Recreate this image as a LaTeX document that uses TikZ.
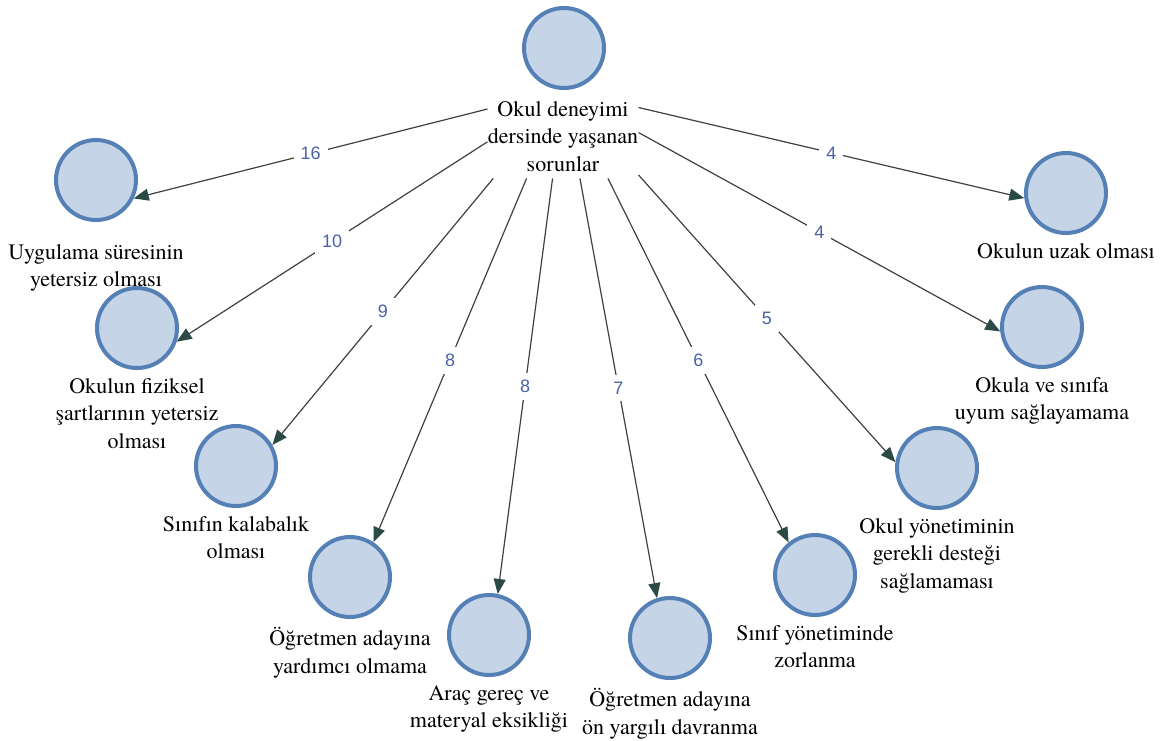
\documentclass[tikz,border=0pt]{standalone}
\usepackage{fontspec}
\setmainfont{TeX Gyre Termes}
\newfontfamily\countfont{Liberation Sans}
\usetikzlibrary{positioning,arrows.meta}
\definecolor{ringblue}{HTML}{5480B5}
\definecolor{fillblue}{HTML}{C6D4E8}
\definecolor{countblue}{HTML}{4A63A6}
\definecolor{tipgreen}{HTML}{2B4A45}
\tikzset{
  theme/.style={circle, draw=ringblue, fill=fillblue, line width=2pt, minimum size=40pt, inner sep=0pt},
  themetext/.style={align=center, inner sep=0pt, font=\rmfamily\fontsize{11}{13.75}\selectfont},
  count/.style={fill=white, inner sep=3.5pt, text=countblue, font=\countfont\fontsize{9}{11}\selectfont},
  link/.style={draw=black!75, line width=0.6pt, -{Triangle[length=7.5pt,width=6pt,color=tipgreen]}}
}
\begin{document}
\begin{tikzpicture}[x=0.5pt, y=-0.5pt, node distance=4pt]
\useasboundingbox (0,0) rectangle (1165,740);
% centre
\node[theme] (top) at (564,48) {};
\node[themetext, minimum width=75pt, minimum height=41.5pt] (hub) at (563,136.5) {Okul deneyimi\\dersinde yaşanan\\sorunlar};
% problems
\node[theme] (uyg) at (96,180) {};
\node[themetext, below=11pt of uyg] (uygtext) {Uygulama süresinin\\yetersiz olması};
\node[theme] (fiz) at (137,328) {};
\node[themetext, below=of fiz] (fiztext) {Okulun fiziksel\\şartlarının yetersiz\\olması};
\node[theme] (kal) at (236,466) {};
\node[themetext, below=of kal] (kaltext) {Sınıfın kalabalık\\olması};
\node[theme] (yrd) at (350,577) {};
\node[themetext, below=of yrd] (yrdtext) {Öğretmen adayına\\yardımcı olmama};
\node[theme] (arac) at (489,635) {};
\node[themetext, below=of arac] (aractext) {Araç gereç ve\\materyal eksikliği};
\node[theme] (onyar) at (670,638) {};
\node[themetext, below=of onyar] (onyartext) {Öğretmen adayına\\ön yargılı davranma};
\node[theme] (sinyon) at (815,575) {};
\node[themetext, below=of sinyon] (sinyontext) {Sınıf yönetiminde\\zorlanma};
\node[theme] (okulyon) at (937,468) {};
\node[themetext, below=of okulyon] (okulyontext) {Okul yönetiminin\\gerekli desteği\\sağlamaması};
\node[theme] (uyum) at (1042,327) {};
\node[themetext, below=of uyum] (uyumtext) {Okula ve sınıfa\\uyum sağlayamama};
\node[theme] (uzak) at (1066,193) {};
\node[themetext, below=of uzak] (uzaktext) {Okulun uzak olması};
% links
\draw[link] (hub.160) -- node[count] {16} (uyg.-26);
\draw[link] (hub.184) -- node[count] {10} (fiz.-19);
\draw[link] (hub.211) -- node[count] {9} (kal.30);
\draw[link] (hub.229) -- node[count] {8} (yrd.56);
\draw[link] (hub.256) -- node[count] {8} (arac.78);
\draw[link] (hub.292) -- node[count] {7} (onyar.108);
\draw[link] (hub.317) -- node[count] {6} (sinyon.129);
\draw[link] (hub.333) -- node[count] {5} (okulyon.172);
\draw[link] (hub.3) -- node[count] {4} (uyum.186);
\draw[link] (hub.21) -- node[count] {4} (uzak.187);
\end{tikzpicture}
\end{document}
